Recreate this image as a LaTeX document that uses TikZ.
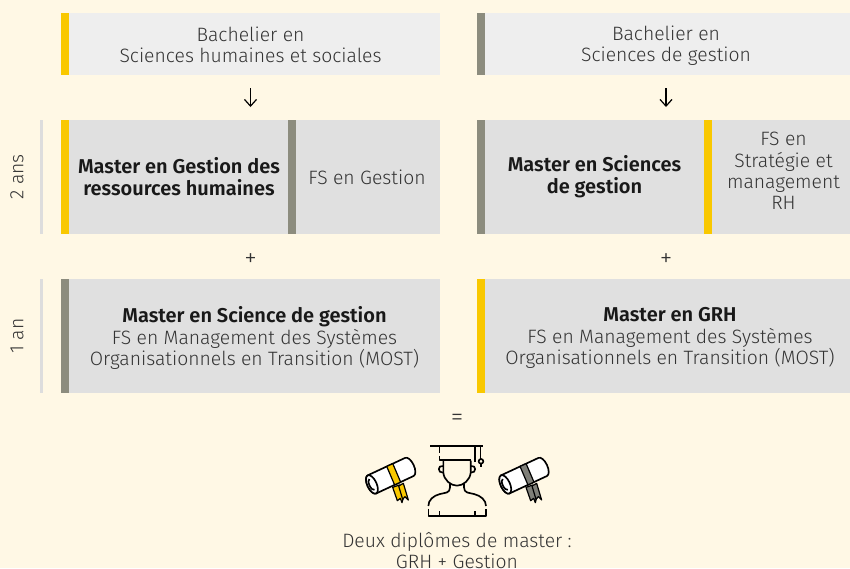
\documentclass[tikz,border=0pt]{standalone}
\usepackage{fontspec}
\setmainfont{Fira Sans Light}[BoldFont={Fira Sans SemiBold}]
\usetikzlibrary{arrows.meta}
\definecolor{bg}{HTML}{FFF8E5}
\definecolor{lightbox}{HTML}{EEEEEE}
\definecolor{midbox}{HTML}{E0E0E0}
\definecolor{yel}{HTML}{F9C800}
\definecolor{gre}{HTML}{8C8C7E}
\definecolor{rib}{HTML}{7F7F78}
\definecolor{txt}{HTML}{333333}
\definecolor{rulec}{HTML}{DDDDDD}
\newcommand{\hd}{\bfseries\fontsize{15}{16}\selectfont\color{black!90}}
\tikzset{
  every node/.style={font=\fontsize{14.5}{16}\selectfont, text=txt, align=center, inner sep=0pt, outer sep=0pt},
  boxl/.style={fill=lightbox, minimum height=46.5pt, anchor=north west},
  boxm/.style={fill=midbox, minimum height=85.5pt, anchor=north west},
  barr/.style={minimum width=6pt, minimum height=#1, anchor=north west},
  lab/.style={text=txt},
  master/.style={font=\hd, text=black!90},
  oper/.style={font=\fontsize{19}{20}\selectfont},
  rulebar/.style={minimum width=2.2pt, minimum height=85.5pt, fill=rulec, anchor=north west},
  flow/.style={-{Straight Barb[length=5pt,width=9pt]}, line width=0.9pt, draw=black, shorten >=9.75pt, shorten <=9.75pt},
  ico/.style={line width=1.25pt, draw=black, line cap=butt, line join=round},
  icothin/.style={line width=0.9pt, draw=black, line join=round},
}
\newcommand{\diplomaicon}[2]{%
  \begin{scope}[shift={(#1,0)}]
  \fill[#2,icothin] (158,172) -- (172,212) -- (181,205) -- (186,218) -- (192,195) -- (178,165) -- cycle;
  \fill[#2,icothin] (176,168) -- (188,208) -- (195,200) -- (205,210) -- (190,160) -- cycle;
  \begin{scope}[shift={(152,137)},rotate=25]
    \path[fill=white,ico] (-62,30) -- (62,30) arc[start angle=90,end angle=-90,x radius=14,y radius=30] -- (-62,-30) arc[start angle=-90,end angle=-270,x radius=14,y radius=30] -- cycle;
    \path[fill=#2,icothin] (-1,30) -- (19,30) -- (21,-30) -- (1,-30) -- cycle;
    \draw[fill=white,ico] (-62,0) ellipse[x radius=14,y radius=30];
    \draw[ico] (-62,18) arc[start angle=90,end angle=270,x radius=8,y radius=18];
  \end{scope}
  \end{scope}}
\begin{document}
\begin{tikzpicture}[x=0.75pt,y=-0.75pt]
\useasboundingbox (0,0) rectangle (850,568);
\fill[bg] (0,0) rectangle (850,568);
\clip (0,0) rectangle (850,568);
% column 1
\node[boxl,minimum width=284.25pt] (b1) at (61,13) {};
\node[barr=46.5pt,fill=yel] (b1bar) at (61,13) {};
\node[lab] (b1t) at (250.5,44.5) {Bachelier en\\Sciences humaines et sociales};
\node[boxm,minimum width=284.25pt] (r1) at (61,120) {};
\node[barr=85.5pt,fill=yel] (r1bar) at (61,120) {};
\node[master] (r1t) at (179,177) {Master en Gestion des\\[0.4pt]ressources humaines};
\node[barr=85.5pt,fill=gre] (r1bar2) at (288,120) {};
\node[lab] (r1fs) at (367,177) {FS en Gestion};
\node[boxm,minimum width=284.25pt] (s1) at (61,279) {};
\node[barr=85.5pt,fill=gre] (s1bar) at (61,279) {};
\node[lab] (s1t) at (254.5,338) {{\hd Master en Science de gestion}\\[0.3pt]FS en Management des Systèmes\\[0.3pt]Organisationnels en Transition (MOST)};
% column 2
\node[boxl,minimum width=283.5pt] (b2) at (477,13) {};
\node[barr=46.5pt,fill=gre] (b2bar) at (477,13) {};
\node[lab] (b2t) at (666,46) {Bachelier en\\Sciences de gestion};
\node[boxm,minimum width=283.5pt] (r2) at (477,120) {};
\node[barr=85.5pt,fill=gre] (r2bar) at (477,120) {};
\node[master] (r2t) at (594.5,177) {Master en Sciences\\[0.4pt]de gestion};
\node[barr=85.5pt,fill=yel] (r2bar2) at (704,120) {};
\node[lab] (r2fst) at (783.5,171) {FS en\\Stratégie et\\management\\RH};
\node[boxm,minimum width=283.5pt] (s2) at (477,279) {};
\node[barr=85.5pt,fill=yel] (s2bar) at (477,279) {};
\node[lab] (s2t) at (670,338) {{\hd Master en GRH}\\[0.3pt]FS en Management des Systèmes\\[0.3pt]Organisationnels en Transition (MOST)};
% connectors
\draw[flow] (b1) -- (r1);
\draw[flow] (b2) -- (r2);
% operators
\node[oper] (p1) at (250.5,260.5) {+};
\node[oper] (p2) at (666,260.5) {+};
\node[oper] (eq) at (457,419.5) {=};
% time rules
\node[rulebar] (tr1) at (40,120) {};
\node[rulebar] (tr2) at (40,279) {};
\node[rotate=90] (t1) at (17,177) {2 ans};
\node[rotate=90] (t2) at (17,336) {1 an};
% icons
\begin{scope}[shift={(340,430)},x=0.25pt,y=-0.25pt]
  % cap
  \draw[ico] (270,47) -- (430,47);
  \draw[ico] (298,47) -- (298,68) (298,78) -- (298,90) -- (392,90) (405,47) -- (405,95);
  \draw[ico] (421,47) -- (421,86);
  \draw[ico] (423,94) circle[radius=7];
  \draw[ico] (423,101) -- (423,112);
  % head
  \draw[ico] (310,92) -- (310,128) .. controls (312,150) and (332,167) .. (351,167) .. controls (370,167) and (390,150) .. (392,128) -- (392,92);
  \draw[ico] (310,108) .. controls (292,104) and (292,130) .. (310,128);
  \draw[ico] (392,108) .. controls (410,104) and (410,130) .. (392,128);
  % neck and shoulders
  \draw[ico] (330,160) -- (330,172) .. controls (330,190) and (315,188) .. (300,192) .. controls (280,197) and (265,210) .. (265,228);
  \draw[ico] (372,160) -- (372,172) .. controls (372,190) and (387,188) .. (402,192) .. controls (422,197) and (438,210) .. (438,228);
  \draw[ico] (265,236) -- (265,257) -- (438,257) -- (438,236);
  \draw[ico] (298,243) -- (298,257) (405,243) -- (405,257);
  \diplomaicon{0}{yel}
  \diplomaicon{400}{rib}
\end{scope}
\node[lab] (concl) at (457,550.5) {Deux diplômes de master :\\GRH + Gestion};
\end{tikzpicture}
\end{document}
